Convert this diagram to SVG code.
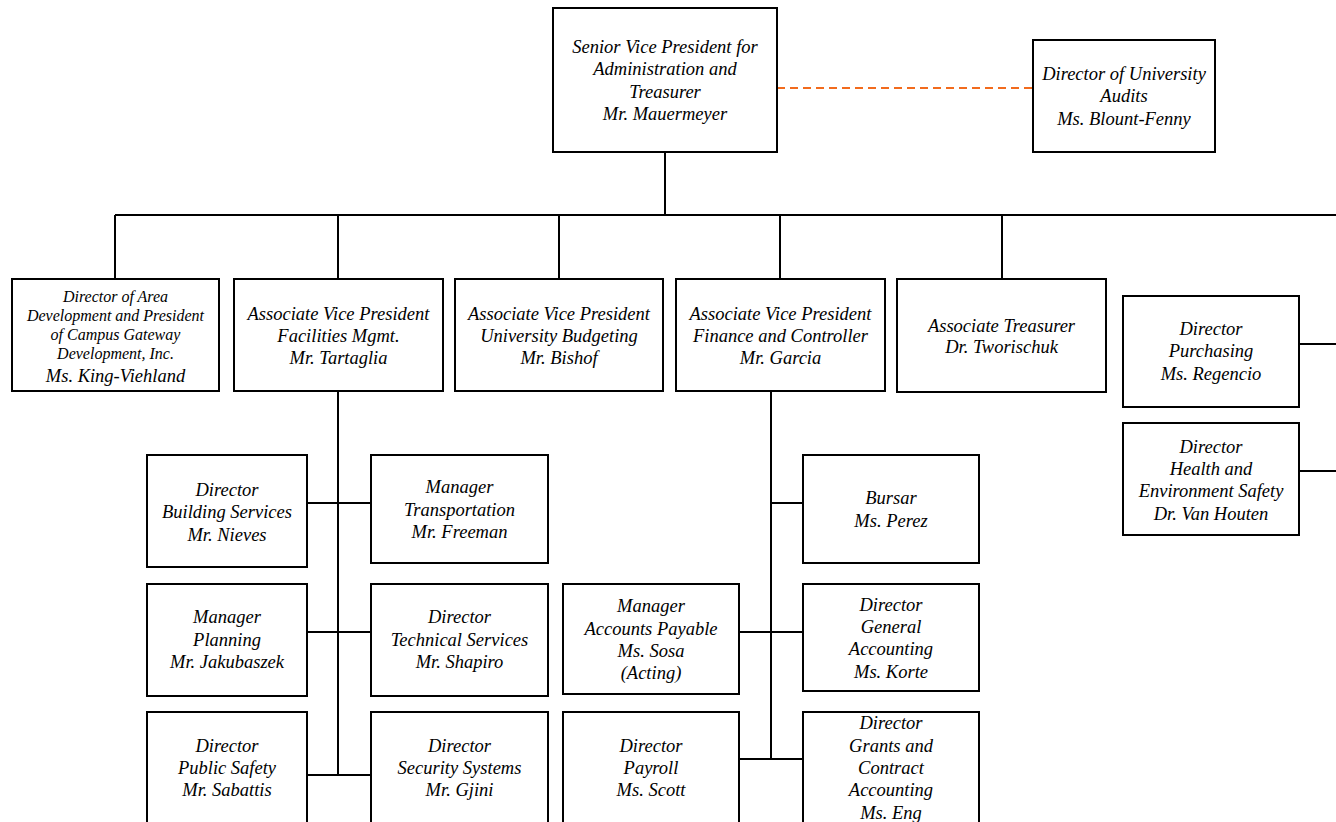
<svg xmlns="http://www.w3.org/2000/svg" width="1336" height="822" viewBox="0 0 1336 822">
<style>
.box{fill:#fff;stroke:#000;stroke-width:2}
.ln{fill:none;stroke:#000;stroke-width:2}
.dash{fill:none;stroke:#F26B1D;stroke-width:2;stroke-dasharray:8 5}
text{font-family:"Liberation Serif","Times New Roman",serif;font-style:italic;font-size:18.5px;fill:#000;text-anchor:middle}
.sm{font-size:16px}
</style>
<rect width="1336" height="822" fill="#fff"/>
<g id="connectors">
<path class="ln" d="M665 152V215M115 215H1336M115 215V279M338 215V279M559 215V279M780 215V279M1002 215V279"/>
<path class="ln" d="M338 391V775M307 503H371M307 632H371M307 775H371"/>
<path class="ln" d="M771 391V759M771 503H803M739 632H803M739 759H803"/>
<path class="ln" d="M1299 344H1336M1299 471H1336"/>
<path class="dash" d="M777 88H1033"/>
</g>
<g id="svp">
<rect class="box" x="553" y="8" width="224" height="144"/>
<text x="665" y="53">Senior Vice President for</text>
<text x="665" y="75.3">Administration and</text>
<text x="665" y="97.6">Treasurer</text>
<text x="665" y="119.9">Mr. Mauermeyer</text>
</g>
<g id="audits">
<rect class="box" x="1033" y="40" width="182" height="112"/>
<text x="1124" y="80">Director of University</text>
<text x="1124" y="102.3">Audits</text>
<text x="1124" y="124.6">Ms. Blount-Fenny</text>
</g>
<g id="area-dev">
<rect class="box" x="12" y="279" width="207" height="112"/>
<text class="sm" x="115.5" y="301.7">Director of Area</text>
<text class="sm" x="115.5" y="320.9">Development and President</text>
<text class="sm" x="115.5" y="340.1">of Campus Gateway</text>
<text class="sm" x="115.5" y="359.3">Development, Inc.</text>
<text x="115.5" y="381.5">Ms. King-Viehland</text>
</g>
<g id="avp-facilities">
<rect class="box" x="234" y="279" width="209" height="112"/>
<text x="338.5" y="320">Associate Vice President</text>
<text x="338.5" y="342">Facilities Mgmt.</text>
<text x="338.5" y="364">Mr. Tartaglia</text>
</g>
<g id="avp-budget">
<rect class="box" x="455" y="279" width="208" height="112"/>
<text x="559" y="320">Associate Vice President</text>
<text x="559" y="342">University Budgeting</text>
<text x="559" y="364">Mr. Bishof</text>
</g>
<g id="avp-finance">
<rect class="box" x="676" y="279" width="209" height="112"/>
<text x="780.5" y="320">Associate Vice President</text>
<text x="780.5" y="342">Finance and Controller</text>
<text x="780.5" y="364">Mr. Garcia</text>
</g>
<g id="assoc-treasurer">
<rect class="box" x="897" y="279" width="209" height="113"/>
<text x="1001.5" y="331.7">Associate Treasurer</text>
<text x="1001.5" y="353">Dr. Tworischuk</text>
</g>
<g id="purchasing">
<rect class="box" x="1123" y="296" width="176" height="111"/>
<text x="1211" y="335">Director</text>
<text x="1211" y="357.3">Purchasing</text>
<text x="1211" y="379.6">Ms. Regencio</text>
</g>
<g id="health-safety">
<rect class="box" x="1123" y="423" width="176" height="112"/>
<text x="1211" y="452.7">Director</text>
<text x="1211" y="475">Health and</text>
<text x="1211" y="497.3">Environment Safety</text>
<text x="1211" y="519.6">Dr. Van Houten</text>
</g>
<g id="building-services">
<rect class="box" x="147" y="455" width="160" height="112"/>
<text x="227" y="496">Director</text>
<text x="227" y="518.3">Building Services</text>
<text x="227" y="540.6">Mr. Nieves</text>
</g>
<g id="transportation">
<rect class="box" x="371" y="455" width="177" height="108"/>
<text x="459.5" y="493.3">Manager</text>
<text x="459.5" y="515.6">Transportation</text>
<text x="459.5" y="537.9">Mr. Freeman</text>
</g>
<g id="planning">
<rect class="box" x="147" y="584" width="160" height="112"/>
<text x="227" y="623.3">Manager</text>
<text x="227" y="645.6">Planning</text>
<text x="227" y="667.9">Mr. Jakubaszek</text>
</g>
<g id="technical-services">
<rect class="box" x="371" y="584" width="177" height="112"/>
<text x="459.5" y="623.3">Director</text>
<text x="459.5" y="645.6">Technical Services</text>
<text x="459.5" y="667.9">Mr. Shapiro</text>
</g>
<g id="public-safety">
<rect class="box" x="147" y="712" width="160" height="112"/>
<text x="227" y="751.7">Director</text>
<text x="227" y="774">Public Safety</text>
<text x="227" y="796.3">Mr. Sabattis</text>
</g>
<g id="security-systems">
<rect class="box" x="371" y="712" width="177" height="112"/>
<text x="459.5" y="751.7">Director</text>
<text x="459.5" y="774">Security Systems</text>
<text x="459.5" y="796.3">Mr. Gjini</text>
</g>
<g id="bursar">
<rect class="box" x="803" y="455" width="176" height="108"/>
<text x="891" y="504.3">Bursar</text>
<text x="891" y="526.6">Ms. Perez</text>
</g>
<g id="accounts-payable">
<rect class="box" x="563" y="584" width="176" height="110"/>
<text x="651" y="612.3">Manager</text>
<text x="651" y="634.6">Accounts Payable</text>
<text x="651" y="656.9">Ms. Sosa</text>
<text x="651" y="679.2">(Acting)</text>
</g>
<g id="general-accounting">
<rect class="box" x="803" y="584" width="176" height="107"/>
<text x="891" y="610.7">Director</text>
<text x="891" y="633">General</text>
<text x="891" y="655.3">Accounting</text>
<text x="891" y="677.6">Ms. Korte</text>
</g>
<g id="payroll">
<rect class="box" x="563" y="712" width="176" height="112"/>
<text x="651" y="751.7">Director</text>
<text x="651" y="774">Payroll</text>
<text x="651" y="796.3">Ms. Scott</text>
</g>
<g id="grants-accounting">
<rect class="box" x="803" y="712" width="176" height="112"/>
<text x="891" y="729.4">Director</text>
<text x="891" y="751.7">Grants and</text>
<text x="891" y="774">Contract</text>
<text x="891" y="796.3">Accounting</text>
<text x="891" y="818.6">Ms. Eng</text>
</g>
</svg>
